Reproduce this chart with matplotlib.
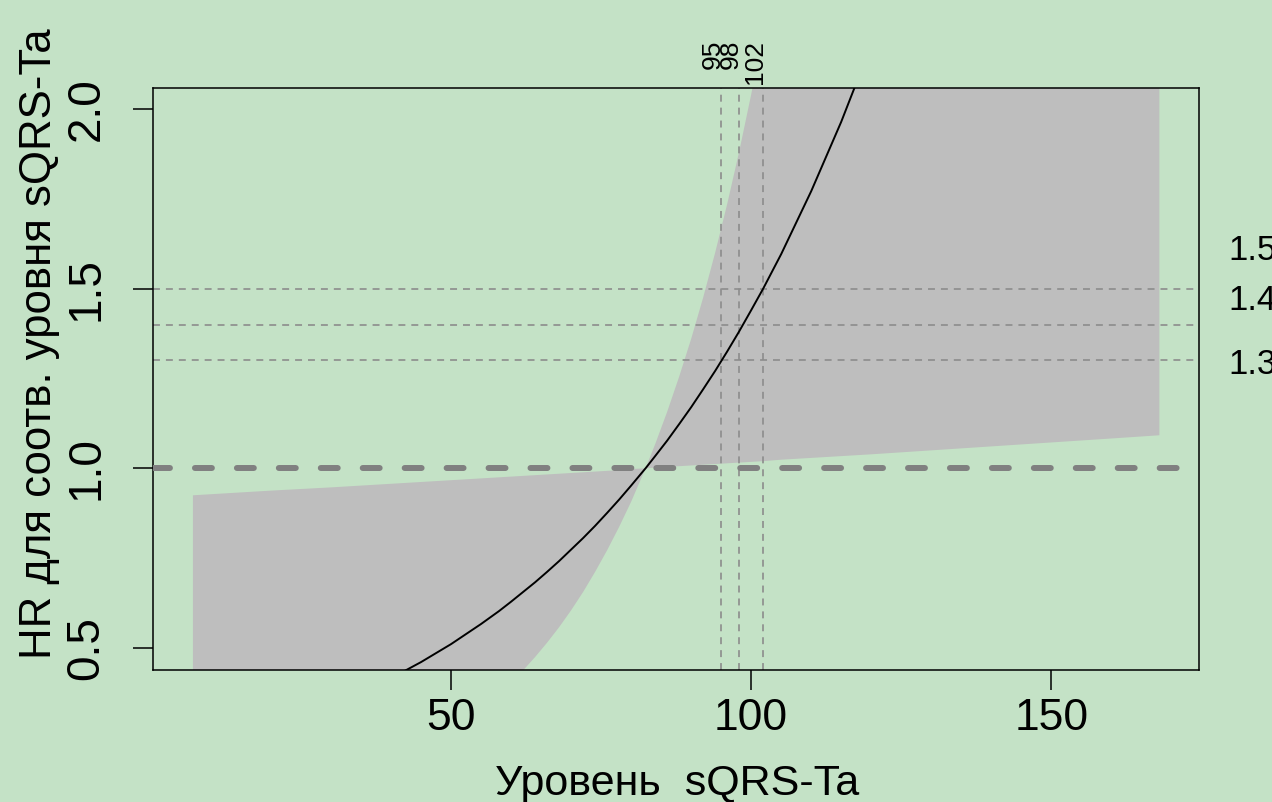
import matplotlib
matplotlib.use("Agg")
import matplotlib.pyplot as plt
import matplotlib.transforms as mtransforms

plt.rcParams['font.family'] = ['Liberation Sans', 'DejaVu Sans']
plt.rcParams['lines.scale_dashes'] = False

# values
level = [7, 20, 30, 40, 45, 50, 55, 58, 60, 62, 64, 66, 68, 70, 72, 74, 76, 78,
         80, 82.4, 84, 86, 88, 90, 92, 94, 96, 98, 100, 102, 105, 110, 115, 120,
         130, 140, 150, 160, 168]
hr = [0.210, 0.275, 0.338, 0.416, 0.461, 0.511, 0.567, 0.603, 0.629, 0.656,
      0.683, 0.712, 0.742, 0.774, 0.806, 0.840, 0.876, 0.913, 0.952, 1.000,
      1.034, 1.077, 1.123, 1.170, 1.220, 1.271, 1.325, 1.381, 1.440, 1.500,
      1.596, 1.771, 1.964, 2.178, 2.679, 3.29, 4.05, 4.98, 5.88]
hr_low = [0.047, 0.080, 0.120, 0.180, 0.220, 0.269, 0.330, 0.372, 0.404, 0.438,
          0.475, 0.515, 0.558, 0.605, 0.656, 0.712, 0.772, 0.837, 0.907, 1.000,
          1.002, 1.004, 1.006, 1.008, 1.010, 1.012, 1.014, 1.016, 1.018, 1.020,
          1.024, 1.029, 1.034, 1.039, 1.050, 1.061, 1.072, 1.083, 1.092]
hr_up = [0.925, 0.938, 0.947, 0.957, 0.962, 0.967, 0.972, 0.975, 0.977, 0.979,
         0.981, 0.983, 0.985, 0.987, 0.989, 0.991, 0.993, 0.995, 0.998, 1.000,
         1.067, 1.157, 1.255, 1.360, 1.475, 1.600, 1.735, 1.881, 2.040, 2.212,
         2.497, 3.058, 3.745, 4.585, 6.87, 10.3, 15.4, 23.2, 32.0]

cut_hr = [1.3, 1.4, 1.5]
cut_level = [95, 98, 102]
cut_level_labels = ['95', '98', '102']
cut_hr_labels = ['1.5', '1.4', '1.3']

bg = '#C4E2C6'
fig = plt.figure(figsize=(12.72, 8.02), dpi=100, facecolor=bg)
ax = fig.add_axes([153 / 1272, 1 - 670 / 802, (1199 - 153) / 1272, (670 - 88) / 802])
ax.set_facecolor(bg)

ax.fill_between(level, hr_low, hr_up, color='#BEBEBE', lw=0, zorder=1)
ax.plot(level, hr, color='black', lw=1.4, zorder=4)

for h in cut_hr:
    ax.axhline(h, color='#8C8C8C', lw=1.2, dashes=(5, 4.3), zorder=2)
for v in cut_level:
    ax.axvline(v, color='#8C8C8C', lw=1.2, dashes=(5, 4.3), zorder=2)
ax.axhline(1.0, color='#808080', lw=4.3, dashes=(12.2, 18), dash_capstyle='round', zorder=3)

ax.set_xlim(0.35, 174.6)
ax.set_ylim(0.439, 2.058)
ax.set_xticks([50, 100, 150])
ax.set_yticks([0.5, 1.0, 1.5, 2.0])
ax.set_yticklabels(['0.5', '1.0', '1.5', '2.0'], rotation=90, va='center')
ax.tick_params(axis='both', direction='out', length=14.4, width=1.1, color='black')
ax.tick_params(axis='x', pad=6, labelsize=32)
ax.tick_params(axis='y', pad=17.5, labelsize=33)
for s in ax.spines.values():
    s.set_linewidth(1.1)

# rotated labels above the vertical cut lines
off = mtransforms.offset_copy(ax.transData, fig=fig, x=-8, y=0, units='dots')
for v, lab in zip(cut_level, cut_level_labels):
    t = mtransforms.blended_transform_factory(off, fig.transFigure)
    ax.text(v, 1 - 40 / 802, lab, transform=t, rotation=90, ha='center', va='top',
            fontsize=19, clip_on=False)

# labels on the right margin
for ypix, lab in zip([250, 300, 365], cut_hr_labels):
    fig.text(1228 / 1272, 1 - ypix / 802, lab, fontsize=25, ha='left', va='center')

fig.text(677 / 1272, 1 - 795 / 802, 'Уровень  sQRS-Ta', fontsize=31, ha='center', va='baseline')
fig.text(40 / 1272, 1 - 344 / 802, 'HR для соотв. уровня sQRS-Ta', fontsize=31.5,
         rotation=90, ha='center', va='center')

fig.savefig('out.png', dpi=100, facecolor=bg)
